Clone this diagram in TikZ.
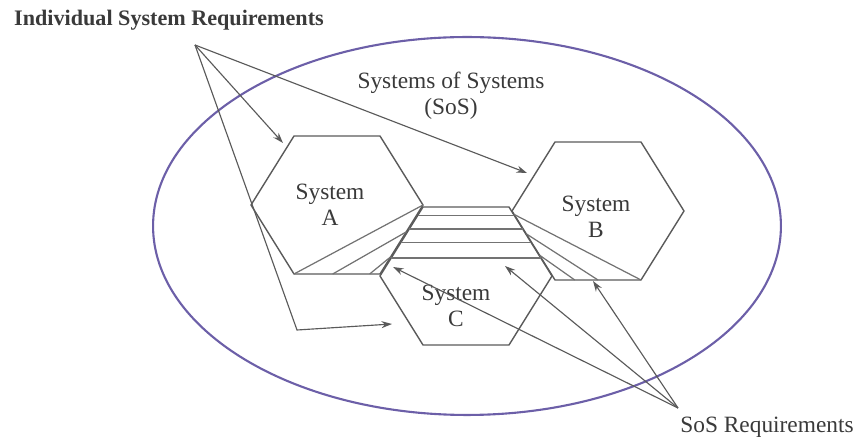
\documentclass[tikz,border=0pt]{standalone}
\usepackage{fontspec}
\setmainfont{Liberation Serif}
\usetikzlibrary{arrows.meta, calc}
\definecolor{sosgrey}{HTML}{5A5A5A}
\definecolor{sosink}{HTML}{3A3A3A}
\definecolor{sosring}{HTML}{6C5FA8}

\tikzset{
  hexline/.style={draw=sosgrey, line width=0.8pt, line join=round},
  stripe/.style={draw=sosgrey!85, line width=0.7pt},
  reqarrow/.style={draw=sosgrey, line width=0.65pt, -{Stealth[length=6pt, width=4pt]}},
  lbl/.style={font=\fontsize{13.3}{15}\selectfont, text=sosink, align=center, inner sep=0pt},
}

\begin{document}
\begin{tikzpicture}[x=0.02cm, y=-0.02cm]
  \useasboundingbox (0,0) rectangle (859,438);
  % SoS boundary
  \draw[sosring, line width=1.2pt] (467,226) ellipse [x radius=6.28cm, y radius=3.78cm];
  % the three systems
  \foreach \n/\x/\y in {A/337/205, B/598/211, C/466/276} {
    \begin{scope}[shift={(\x,\y)}]
      \coordinate (\n1) at (-43,-69); \coordinate (\n2) at (43,-69);
      \coordinate (\n3) at (86,0);    \coordinate (\n4) at (43,69);
      \coordinate (\n5) at (-43,69);  \coordinate (\n6) at (-86,0);
      \draw[hexline] (\n1) -- (\n2) -- (\n3) -- (\n4) -- (\n5) -- (\n6) -- cycle;
    \end{scope}}
  % interface stripes
  \foreach \t in {0.12,0.32,0.52,0.74}
    \draw[stripe] ($(C1)!\t!(C6)$) -- ($(C2)!\t!(C3)$);
  % fans into A and B
  \draw[stripe] (A3) -- (A5);
  \draw[stripe] ($(A3)!0.39!(A4)$) -- ($(A5)!0.45!(A4)$);
  \draw[stripe] ($(A3)!0.75!(A4)$) -- ($(A5)!0.88!(A4)$);
  \draw[stripe] ($(B6)!0.05!(B5)$) -- (B4);
  \draw[stripe] ($(B6)!0.33!(B5)$) -- ($(B4)!0.5!(B5)$);
  \draw[stripe] ($(B6)!0.64!(B5)$) -- ($(B4)!0.77!(B5)$);
  % labels
  \node[lbl] (sysA) at (330,205) {System\\A};
  \node[lbl] (sysB) at (596,217) {System\\B};
  \node[lbl] (sysC) at (456,306) {System\\C};
  \node[lbl] (sos) at (451,96) {Systems of Systems\\(SoS)};
  \node[lbl, font=\fontsize{12.6}{15}\selectfont\bfseries] (isr) at (169,20) {Individual System Requirements};
  \node[lbl] (sosr) at (767,427) {SoS Requirements};
  % individual requirements
  \coordinate (isr-fan) at (195,45);
  \coordinate (tipA) at (283,143);
  \coordinate (tipB) at (527,173);
  \coordinate (bendC) at (297,330);
  \coordinate (tipC) at (392,324);
  \draw[reqarrow] (isr-fan) -- (tipA);
  \draw[reqarrow] (isr-fan) -- (tipB);
  \draw[reqarrow] (isr-fan) -- (bendC) -- (tipC);
  % SoS requirements
  \coordinate (sosr-fan) at (678,408);
  \coordinate (tipL) at (393,267);
  \coordinate (tipM) at (505,266);
  \coordinate (tipR) at (593,281);
  \foreach \tip in {tipL,tipM,tipR}
    \draw[reqarrow] (sosr-fan) -- (\tip);
\end{tikzpicture}
\end{document}
